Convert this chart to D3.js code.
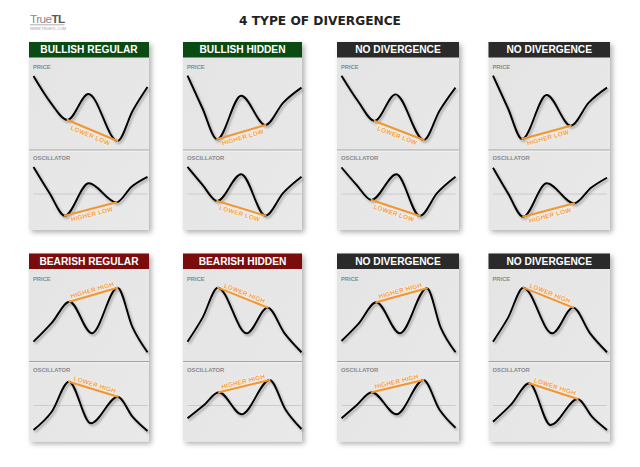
<!DOCTYPE html>
<html><head><meta charset="utf-8">
<script src="https://cdn.jsdelivr.net/npm/d3@7"></script>
<style>body{margin:0;background:#fff}svg{display:block}</style>
</head><body>
<script>
// ---------- DATA ----------
const headerTitles = ["BULLISH REGULAR","BULLISH HIDDEN","NO DIVERGENCE","NO DIVERGENCE",
                      "BEARISH REGULAR","BEARISH HIDDEN","NO DIVERGENCE","NO DIVERGENCE"];
const headerKinds  = ["bull","bull","none","none","bear","bear","none","none"];
const priceLabels  = ["LOWER LOW","HIGHER LOW","LOWER LOW","HIGHER LOW",
                      "HIGHER HIGH","LOWER HIGH","HIGHER HIGH","LOWER HIGH"];
const oscLabels    = ["HIGHER LOW","LOWER LOW","LOWER LOW","HIGHER LOW",
                      "LOWER HIGH","HIGHER HIGH","HIGHER HIGH","LOWER HIGH"];
// curves: [time 0..100, value 0..100]
const bullRegPrice = [[0,97],[15,58],[29.8,32.4],[48.2,70.6],[73.7,1.5],[87,46],[100,80.9]];
const bullRegOsc   = [[0,102],[14,52],[27.5,8.3],[48.5,70.6],[72.8,34],[86,64],[100,83]];
const bullHidPrice = [[0,97.5],[13,50],[26,4],[47.1,68.1],[68.4,25],[84,58],[100,80]];
const bullHidOsc   = [[0,102],[13,68],[26,36.5],[47.1,87.9],[68.4,8.3],[84,52],[100,83]];
const noDiv1Price  = [[0,97.5],[14.5,60],[29,30.9],[47.4,70.1],[72.2,2.9],[86,46],[100,80]];
const noDiv1Osc    = [[0,101],[13,68],[26.3,38.5],[48.2,87.9],[68.7,7.7],[84,52],[100,83]];
const noDiv2Price  = [[0,97.5],[13,50],[25.6,4.4],[47.1,69.1],[68.2,24],[84,58],[100,80]];
const noDiv2Osc    = [[0,100.6],[13,52],[26.5,6.3],[47.1,70.6],[71.2,32.1],[86,62],[100,81.3]];
const bearRegPrice = [[0,17.4],[16,45],[31.6,76.2],[51.2,29.7],[73.7,96.8],[87,38],[100,1.8]];
const bearRegOsc   = [[0,2.9],[16,38],[31.1,95.8],[50.3,15.8],[74,66.9],[87,28],[100,1]];
const bearHidPrice = [[0,17.4],[13,52],[26.7,96.8],[52,29.7],[70.3,67.4],[85,30],[100,1.8]];
const bearHidOsc   = [[0,25.4],[14,50],[27.6,75.4],[47.5,33.1],[72.1,99],[86,42],[100,4.8]];
const noDiv3Price  = [[0,18.4],[15,44],[30.5,75.3],[51.2,29.7],[74.9,95.9],[87,38],[100,1.8]];
const noDiv3Osc    = [[0,25.4],[13,50],[26.6,75.4],[48.3,33.1],[71.9,99],[86,42],[100,7.3]];
const noDiv4Price  = [[0,17.4],[13,52],[26.7,96.8],[52,29.7],[70.3,67.4],[85,30],[100,1.8]];
const noDiv4Osc    = [[0,18.8],[16,52],[31.8,92.7],[50.5,12.5],[74.3,62.5],[87,28],[100,2.9]];
const priceCurves = [bullRegPrice,bullHidPrice,noDiv1Price,noDiv2Price,bearRegPrice,bearHidPrice,noDiv3Price,noDiv4Price];
const oscCurves   = [bullRegOsc,bullHidOsc,noDiv1Osc,noDiv2Osc,bearRegOsc,bearHidOsc,noDiv3Osc,noDiv4Osc];
const divIdx = [2,4]; // points joined by divergence line
const oscZero = 50;

// ---------- LAYOUT ----------
const W=640,H=467;
const colX=[29,183,337,488.5], colW=[120,119,122,121.5];
const rowTop=[42,253.5];
const headerH=15.5, bodyH=188, sepY=108;
const headerFill={bull:"#0c4a13",bear:"#7a0c0c",none:"#2a2a2a"};
const orange="#f2962e";

const svg=d3.select("body").append("svg").attr("width",W).attr("height",H);
const defs=svg.append("defs");
const ps=defs.append("filter").attr("id","pshadow").attr("x","-10%").attr("y","-10%").attr("width","130%").attr("height","130%");
ps.append("feDropShadow").attr("dx",2.5).attr("dy",2.5).attr("stdDeviation",2.4).attr("flood-color","#000").attr("flood-opacity",0.3);
const cs=defs.append("filter").attr("id","cshadow").attr("x","-10%").attr("y","-10%").attr("width","130%").attr("height","130%");
cs.append("feDropShadow").attr("dx",1.5).attr("dy",2).attr("stdDeviation",1).attr("flood-color","#000").attr("flood-opacity",0.3);
const grad=defs.append("linearGradient").attr("id","bodyGrad").attr("x1",0).attr("y1",0).attr("x2",1).attr("y2",1);
grad.append("stop").attr("offset","0%").attr("stop-color","#e4e4e4");
grad.append("stop").attr("offset","100%").attr("stop-color","#e9e9e9");

// logo
const logo=svg.append("g");
logo.append("text").attr("x",30).attr("y",23.3).attr("font-family","Liberation Sans, sans-serif")
  .attr("font-size",11.8).attr("letter-spacing",-0.6)
  .call(t=>{t.append("tspan").attr("fill","#8a8a8a").text("True");
            t.append("tspan").attr("fill","#5a5a5a").attr("font-weight","bold").text("TL");});
logo.append("line").attr("x1",30).attr("x2",64.5).attr("y1",24.8).attr("y2",24.8).attr("stroke","#8a8a8a").attr("stroke-width",0.7);
logo.append("text").attr("x",30).attr("y",29.8).attr("font-family","Liberation Sans, sans-serif").attr("font-size",3.6)
  .attr("fill","#999").attr("textLength",36).attr("lengthAdjust","spacingAndGlyphs").text("WWW.TRUETL.COM");

// title
svg.append("text").attr("x",320).attr("y",24.6).attr("text-anchor","middle")
  .attr("font-family","DejaVu Sans, Verdana, sans-serif").attr("font-weight","bold").attr("font-size",12.2)
  .attr("fill","#222").text("4 TYPE OF DIVERGENCE");

function divLabel(g, p1, p2, label, isLow){
  g.append("line").attr("x1",p1[0]).attr("y1",p1[1]).attr("x2",p2[0]).attr("y2",p2[1])
    .attr("stroke",orange).attr("stroke-width",2).attr("stroke-linecap","round");
  const ang=Math.atan2(p2[1]-p1[1],p2[0]-p1[0])*180/Math.PI;
  const mx=(p1[0]+p2[0])/2, my=(p1[1]+p2[1])/2;
  g.append("text").attr("transform",`translate(${mx},${my}) rotate(${ang})`)
    .attr("x",0).attr("y",isLow?7.6:-2.6).attr("text-anchor","middle")
    .attr("font-family","Liberation Sans, Arial, sans-serif").attr("font-weight","bold").attr("font-size",6.4)
    .attr("fill","#f4a043").attr("stroke","rgba(255,255,255,0.55)").attr("stroke-width",1.2)
    .attr("paint-order","stroke").attr("letter-spacing",0.2).text(label);
}

headerTitles.forEach((title,i)=>{
  const c=i%4, r=Math.floor(i/4);
  const px=colX[c], pw=colW[c], top=rowTop[r];
  const isLow = r===0;
  const g=svg.append("g");
  g.append("rect").attr("x",px).attr("y",top).attr("width",pw).attr("height",bodyH)
    .attr("fill","url(#bodyGrad)").attr("filter","url(#pshadow)");
  g.append("rect").attr("x",px).attr("y",top).attr("width",pw).attr("height",headerH).attr("fill",headerFill[headerKinds[i]]);
  g.append("text").attr("x",px+pw/2).attr("y",top+11.4).attr("text-anchor","middle")
    .attr("font-family","Liberation Sans, Arial, sans-serif").attr("font-weight","bold").attr("font-size",10.2)
    .attr("fill","#fff").text(title);
  // separator
  g.append("line").attr("x1",px).attr("x2",px+pw).attr("y1",top+sepY).attr("y2",top+sepY).attr("stroke","#a3a3a3").attr("stroke-width",1.2);
  g.append("line").attr("x1",px).attr("x2",px+pw).attr("y1",top+sepY+1.2).attr("y2",top+sepY+1.2).attr("stroke","#f4f4f4").attr("stroke-width",0.8);
  const lab=(y,t)=>g.append("text").attr("x",px+4).attr("y",y).attr("font-family","Liberation Sans, Arial, sans-serif")
    .attr("font-weight","bold").attr("font-size",5.8).attr("fill","#8a8a8a").text(t);
  lab(top+27,"PRICE"); lab(top+118,"OSCILLATOR");

  const x=d3.scaleLinear().domain([0,100]).range([px+4.5,px+118.5]);
  const yP=d3.scaleLinear().domain([0,100]).range([top+100,top+32]);
  const yO=d3.scaleLinear().domain([0,100]).range([top+178,top+126]);
  // zero line
  g.append("line").attr("x1",x(0)).attr("x2",x(100)).attr("y1",yO(oscZero)).attr("y2",yO(oscZero))
    .attr("stroke","#c4c4c4").attr("stroke-width",0.8);

  [[priceCurves[i],yP,priceLabels[i]],[oscCurves[i],yO,oscLabels[i]]].forEach(([data,y,label])=>{
    const line=d3.line().x(d=>x(d[0])).y(d=>y(d[1])).curve(d3.curveMonotoneX);
    g.append("path").attr("d",line(data)).attr("fill","none").attr("stroke","#000")
      .attr("stroke-width",1.9).attr("filter","url(#cshadow)");
    const a=data[divIdx[0]], b=data[divIdx[1]];
    divLabel(g,[x(a[0]),y(a[1])],[x(b[0]),y(b[1])],label,isLow);
  });
});
</script>
</body></html>
